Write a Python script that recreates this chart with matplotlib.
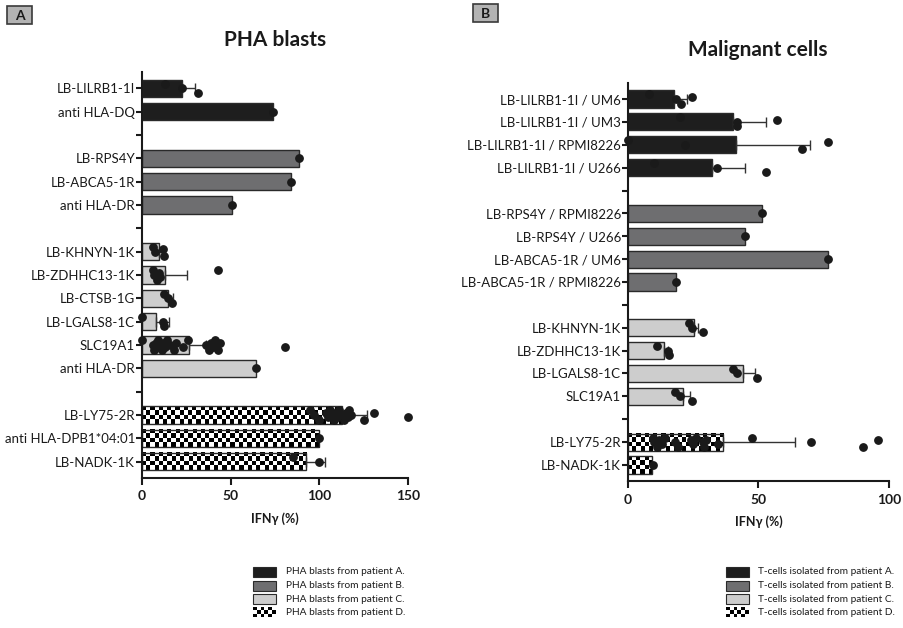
import numpy as np
import matplotlib
matplotlib.use("Agg")
import matplotlib.pyplot as plt
from matplotlib.patches import Rectangle

plt.rcParams['font.family'] = ['Lato', 'DejaVu Sans']

# ---------------- data: PHA blasts ----------------
labels_a = ["LB-LILRB1-1I", "anti HLA-DQ", "",
            "LB-RPS4Y", "LB-ABCA5-1R", "anti HLA-DR", "",
            "LB-KHNYN-1K", "LB-ZDHHC13-1K", "LB-CTSB-1G", "LB-LGALS8-1C",
            "SLC19A1", "anti HLA-DR", "",
            "LB-LY75-2R", "anti HLA-DPB1*04:01", "LB-NADK-1K"]
groups_a = ["A", "A", None, "B", "B", "B", None,
            "C", "C", "C", "C", "C", "C", None, "D", "D", "D"]
means_a = [22.5, 74, None, 88.3, 83.8, 51, None,
           9.6, 13, 14.7, 7.9, 26.5, 64.2, None, 113, 99.6, 92.7]
errs_a = [7.3, 0, None, 0, 0, 0, None,
          2.5, 12.3, 2.6, 7.1, 9.5, 0, None, 14, 0, 10.3]
dots_a = [[13, 22.5, 31.5], [74], [],
          [88.3], [83.8], [51], [],
          [6.2, 7.3, 12.4, 11.8],
          [6, 7, 8.5, 9.5, 10, 43],
          [12.4, 14.8, 16.9],
          [0, 11.8, 12.3],
          [0, 6, 7, 8, 8.5, 9, 10, 11, 12, 13, 14, 16, 18, 19, 23, 26,
           36, 38, 39, 40, 41, 42, 43, 44, 80.5],
          [64.2], [],
          [95, 97, 100, 104, 105, 106, 107, 108, 109, 110, 111, 112, 114,
           115, 116, 117, 118, 125, 131, 150],
          [99.6], [85, 100]]

# ---------------- data: malignant cells ----------------
labels_b = ["LB-LILRB1-1I / UM6", "LB-LILRB1-1I / UM3",
            "LB-LILRB1-1I / RPMI8226", "LB-LILRB1-1I / U266", "",
            "LB-RPS4Y / RPMI8226", "LB-RPS4Y / U266",
            "LB-ABCA5-1R / UM6", "LB-ABCA5-1R / RPMI8226", "",
            "LB-KHNYN-1K", "LB-ZDHHC13-1K", "LB-LGALS8-1C", "SLC19A1", "",
            "LB-LY75-2R", "LB-NADK-1K"]
groups_b = ["A", "A", "A", "A", None, "B", "B", "B", "B", None,
            "C", "C", "C", "C", None, "D", "D"]
means_b = [17.6, 40.2, 41.4, 32.2, None, 51.4, 44.8, 76.6, 18.4, None,
           25.3, 13.8, 44, 21, None, 36.4, 9.2]
errs_b = [5, 12.8, 28.3, 12.6, None, 0, 0, 0, 0, None,
          1.5, 1.5, 4.8, 2.8, None, 27.6, 0]
dots_b = [[8, 18.4, 20.3, 24.5], [20, 41.8, 41.8, 57], [0, 22, 66.7, 76.6],
          [10, 34, 52.9], [],
          [51.4], [44.8], [76.6], [18.4], [],
          [23.4, 24.5, 28.7], [11.1, 15.3, 15.8], [40.2, 41.8, 49.4],
          [18, 19.9, 24.5], [],
          [9.6, 10, 11, 12, 13, 14, 18, 19.2, 24, 25, 26, 28.7, 29, 30,
           34.5, 47.5, 70, 90, 95.8],
          [9.5]]

legend_a = ["PHA blasts from patient A.", "PHA blasts from patient B.",
            "PHA blasts from patient C.", "PHA blasts from patient D."]
legend_b = ["T-cells isolated from patient A.", "T-cells isolated from patient B.",
            "T-cells isolated from patient C.", "T-cells isolated from patient D."]

FILL = {"A": "#1e1e1e", "B": "#6e6e70", "C": "#cdcdcd"}
EDGE = "#2a2a2a"
BAR_H = 0.75
CELL_PX = 4.2

W, H = 904, 628
fig = plt.figure(figsize=(W / 100, H / 100), dpi=100)

# overlay in pixel coordinates for panel tags and legends
ov = fig.add_axes([0, 0, 1, 1])
ov.set_xlim(0, W)
ov.set_ylim(H, 0)
ov.axis("off")
ov.patch.set_alpha(0)


def checker_image(ncols, nrows):
    yy, xx = np.mgrid[0:nrows, 0:ncols]
    return ((xx + yy) % 2).astype(float)


def draw_panel(rect, labels, groups, means, errs, dots, xmax, xticks):
    ax = fig.add_axes(rect)
    n = len(labels)
    ax.set_xlim(0, xmax)
    ax.set_ylim(n - 0.3, -0.7)
    ax_w_px = rect[2] * W
    ax_h_px = rect[3] * H
    px_per_x = ax_w_px / xmax
    px_per_y = ax_h_px / (n + 0.4)

    for i in range(n):
        g = groups[i]
        if g is None:
            continue
        m = means[i]
        if g == "D":
            ncols = max(1, int(round(m * px_per_x / CELL_PX)))
            nrows = max(1, int(round(BAR_H * px_per_y / CELL_PX)))
            ax.imshow(checker_image(ncols, nrows), cmap="gray", vmin=0, vmax=1,
                      extent=(0, m, i + BAR_H / 2, i - BAR_H / 2),
                      interpolation="nearest", aspect="auto", zorder=1)
            ax.barh(i, m, height=BAR_H, facecolor="none", edgecolor=EDGE,
                    linewidth=1.0, zorder=2)
        else:
            ax.barh(i, m, height=BAR_H, color=FILL[g], edgecolor=EDGE,
                    linewidth=1.0, zorder=2)
        if errs[i]:
            ax.errorbar(m, i, xerr=[[0], [errs[i]]], fmt="none", ecolor="#333333",
                        elinewidth=1.0, capsize=3.5, capthick=1.0, zorder=3)
        d = dots[i]
        if d:
            k = len(d)
            offs = [0.0] if k == 1 else [(((j * 7) % 5) - 2) * 0.1 for j in range(k)]
            ax.plot(d, [i + o for o in offs], "o", color="#1a1a1a",
                    markersize=5.3, zorder=4, clip_on=False)

    ax.set_yticks(range(n))
    ax.set_yticklabels(labels, fontsize=9.5, color="#1a1a1a")
    ax.set_xticks(xticks)
    ax.set_xticklabels([str(t) for t in xticks], fontsize=10, fontweight="bold",
                       color="#1a1a1a")
    ax.tick_params(axis="y", length=4, width=1.5, color="#1a1a1a", pad=1)
    ax.tick_params(axis="x", length=5, width=1.5, color="#1a1a1a", pad=4)
    for s in ("top", "right"):
        ax.spines[s].set_visible(False)
    for s in ("left", "bottom"):
        ax.spines[s].set_linewidth(1.5)
        ax.spines[s].set_color("#1a1a1a")
    ax.set_xlabel("IFNγ (%)", fontsize=9, fontweight="bold", labelpad=7,
                  color="#1a1a1a")
    ax.patch.set_alpha(0)
    return ax


draw_panel([142 / W, 1 - 478 / H, 266 / W, 406 / H], labels_a, groups_a,
           means_a, errs_a, dots_a, 150, [0, 50, 100, 150])
draw_panel([628 / W, 1 - 481 / H, 261 / W, 398 / H], labels_b, groups_b,
           means_b, errs_b, dots_b, 100, [0, 50, 100])

# titles
ov.text(275, 40, "PHA blasts", fontsize=15, fontweight="bold", ha="center",
        va="center", color="#1a1a1a")
ov.text(758, 50, "Malignant cells", fontsize=15, fontweight="bold", ha="center",
        va="center", color="#1a1a1a")

# panel tags
for (x0, y0, tag) in [(7, 6, "A"), (473, 4, "B")]:
    ov.add_patch(Rectangle((x0, y0), 25, 18, facecolor="#b3b3b3",
                           edgecolor="#3a3a3a", linewidth=1.2))
    ov.text(x0 + 12.5, y0 + 9.5, tag, fontsize=10, fontweight="bold",
            ha="center", va="center", color="#1a1a1a")


def draw_legend(x0, x_text, entries):
    ys = [572, 585.5, 599, 612.5]
    keys = ["A", "B", "C", "D"]
    for y, k, txt in zip(ys, keys, entries):
        if k == "D":
            ov.imshow(checker_image(6, 3), cmap="gray", vmin=0, vmax=1,
                      extent=(x0, x0 + 23, y + 5, y - 5),
                      interpolation="nearest", aspect="auto")
        else:
            ov.add_patch(Rectangle((x0, y - 5), 23, 10, facecolor=FILL[k],
                                   edgecolor=EDGE, linewidth=0.8))
        ov.text(x_text, y, txt, fontsize=7.3, va="center", ha="left",
                color="#1a1a1a")


draw_legend(253, 286, legend_a)
draw_legend(726, 758, legend_b)
ov.set_xlim(0, W)
ov.set_ylim(H, 0)

fig.savefig("out.png", dpi=100)
